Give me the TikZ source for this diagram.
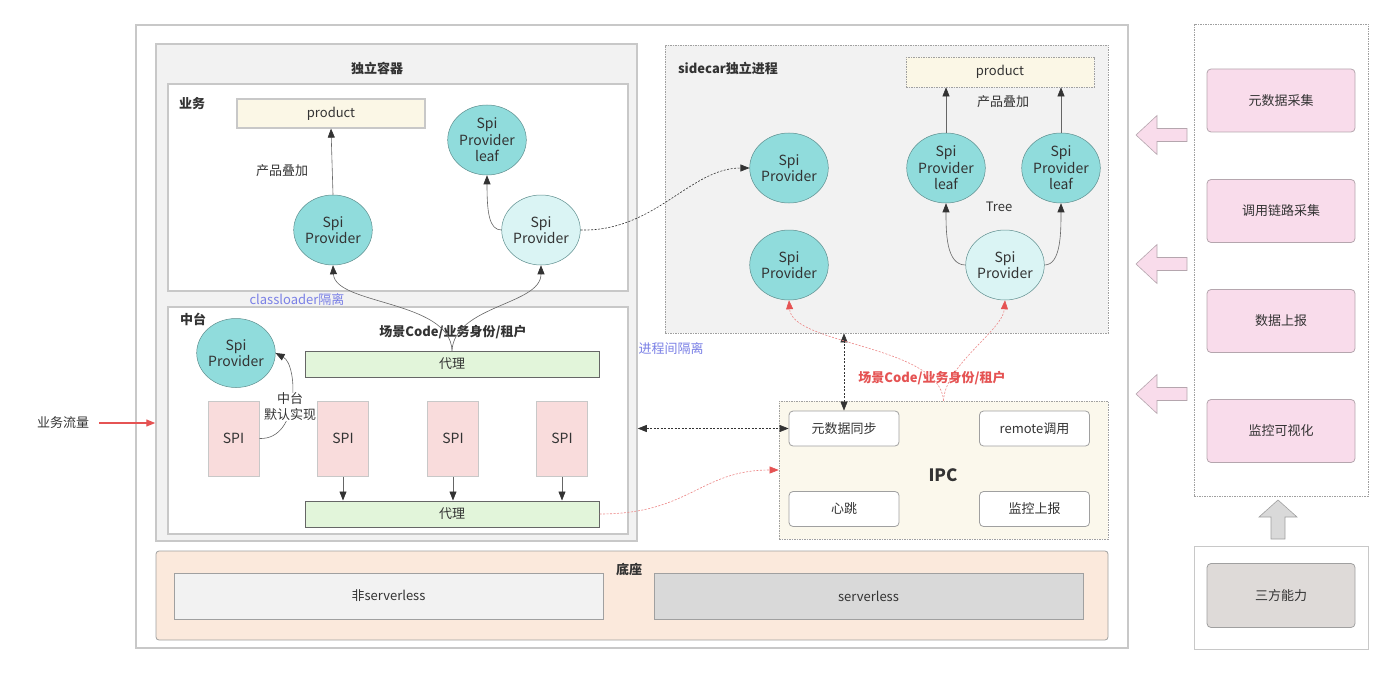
\documentclass[tikz,border=0pt]{standalone}
\usepackage{fontspec}
\setmainfont{Noto Sans CJK SC}
\usetikzlibrary{arrows.meta,shapes.geometric}
\definecolor{txt}{HTML}{333333}
\definecolor{framegray}{HTML}{C8C8C8}
\definecolor{bggray}{HTML}{F2F2F2}
\definecolor{dashgray}{HTML}{A0A0A0}
\definecolor{tealfill}{HTML}{90DCDC}
\definecolor{tealpale}{HTML}{DAF4F4}
\definecolor{tealline}{HTML}{5E8E8E}
\definecolor{cream}{HTML}{FBF7E6}
\definecolor{ipccream}{HTML}{FBF8EC}
\definecolor{proxygreen}{HTML}{E2F5DA}
\definecolor{spipink}{HTML}{F9DCDC}
\definecolor{panelpink}{HTML}{F9DCEB}
\definecolor{panelline}{HTML}{B5A6AE}
\definecolor{peach}{HTML}{FBE9DC}
\definecolor{servergray}{HTML}{D9D9D9}
\definecolor{thirdgray}{HTML}{DEDAD8}
\definecolor{linegray}{HTML}{666666}
\definecolor{isoblue}{HTML}{7A80E6}
\definecolor{flowred}{HTML}{E55353}
\tikzset{
  every node/.style={font=\fontsize{13}{16}\selectfont,text=txt,inner sep=0pt},
  frame/.style={draw=framegray,line width=1.5pt,rectangle},
  dframe/.style={draw=dashgray,line width=0.7pt,dash pattern=on 1.5pt off 1pt,rectangle},
  title/.style={font=\fontsize{13}{16}\selectfont\bfseries},
  prov/.style={ellipse,draw=tealline,line width=0.5pt,fill=tealfill,minimum width=75pt,
    minimum height=70pt,align=center,font=\fontsize{14}{16.5}\selectfont},
  prodbox/.style={draw=framegray,line width=1.2pt,fill=cream,minimum width=188pt,minimum height=29pt},
  proxy/.style={draw=linegray,line width=1pt,fill=proxygreen,minimum width=294pt,minimum height=26pt},
  spibox/.style={draw=framegray,line width=1pt,fill=spipink,minimum width=51pt,minimum height=75pt,
    font=\fontsize{14}{16}\selectfont},
  ipcbox/.style={draw=dashgray,line width=0.8pt,rounded corners=4pt,fill=white,minimum width=110pt,minimum height=35pt},
  panel/.style={draw=panelline,line width=0.8pt,rounded corners=4pt,fill=panelpink,minimum width=148pt,minimum height=63pt},
  link/.style={draw=linegray,line width=0.6pt,-{Triangle[length=9pt,width=7pt,color=black!80]}},
  dlink/.style={draw=black!80,line width=0.6pt,dash pattern=on 2pt off 1.5pt,{Triangle[length=9pt,width=7pt]}-{Triangle[length=9pt,width=7pt]}},
  slink/.style={draw=black!80,line width=0.6pt,dash pattern=on 2pt off 1.5pt,-{Triangle[length=9pt,width=7pt]}},
  rlink/.style={draw=flowred!70,line width=0.6pt,dash pattern=on 2pt off 1.5pt,-{Triangle[length=9pt,width=7pt,color=flowred]}},
  blockarrow/.style={fill=panelpink,draw=panelline,line width=0.6pt}
}
\newcommand{\provider}[4][]{\node[prov,#1] at (#2) (#3) {#4}}

\begin{document}
\begin{tikzpicture}[x=1pt,y=-1pt]
  \useasboundingbox (0,0) rectangle (1392,674);

  \node[frame,fill=white,minimum width=992,minimum height=623] (outer) at (632,336.5) {};
  \node[frame,fill=bggray,minimum width=481,minimum height=497] (ctr) at (396.5,292.5) {};
  \node[title] (ctrt) at (377,68) {独立容器};
  \node[frame,fill=white,minimum width=460,minimum height=207] (biz) at (398,187.5) {};
  \node[title] (bizt) at (192,104) {业务};
  \node[frame,fill=white,minimum width=460,minimum height=227] (mid) at (398,420.5) {};
  \node[title] (midt) at (193,319) {中台};
  \node[dframe,fill=bggray,minimum width=443,minimum height=288] (side) at (886.5,189) {};
  \node[title] (sidet) at (728,68) {sidecar独立进程};
  \node[dframe,fill=ipccream,minimum width=329,minimum height=138] (ipc) at (943.5,470) {};
  \node[font=\fontsize{17}{19}\selectfont\bfseries] (ipct) at (943,475) {IPC};
  \node[draw=dashgray,line width=0.8pt,rounded corners=3pt,fill=peach,minimum width=952,minimum height=89] (base) at (632,595.5) {};
  \node[title] (baset) at (629,569) {底座};
  \node[draw=dashgray,line width=1pt,fill=bggray,minimum width=429,minimum height=46] (nonsl) at (388.5,596) {非serverless};
  \node[draw=dashgray,line width=1pt,fill=servergray,minimum width=429,minimum height=46] (sl) at (868.5,596) {serverless};

  \node[prodbox] (prod) at (331,113.5) {product};
  \node (stack) at (282,171) {产品叠加};
  \provider{333,230}{spa}{Spi\\Provider};
  \provider[minimum width=72pt]{487,140}{leaf}{Spi\\Provider\\leaf};
  \provider[fill=tealpale]{541,230}{spb}{Spi\\Provider};
  \node[text=isoblue] (cliso) at (297,300) {classloader隔离};

  \node[title] (scene) at (453,332) {场景Code/业务身份/租户};
  \node[proxy] (proxyt) at (452,364) {代理};
  \provider[minimum width=74pt,minimum height=69pt]{236,353}{spc}{Spi\\Provider};
  \node[spibox] (spia) at (233.5,438.5) {SPI};
  \node[spibox] (spib) at (343,438.5) {SPI};
  \node[spibox] (spic) at (453,438.5) {SPI};
  \node[spibox] (spid) at (562,438.5) {SPI};
  \node[proxy] (proxyb) at (452,514) {代理};
  \node (flow) at (63,423) {业务流量};
  \node[text=isoblue] (pciso) at (671,349) {进程间隔离};

  \node[dframe,fill=cream,minimum width=188pt,minimum height=30pt] (prodsc) at (1000,72) {product};
  \node (stacksc) at (1003,102) {产品叠加};
  \provider[minimum width=77pt]{789,168}{scpa}{Spi\\Provider};
  \provider[minimum width=77pt]{789,265}{scpb}{Spi\\Provider};
  \provider[minimum width=76pt]{946,168}{leafa}{Spi\\Provider\\leaf};
  \provider[minimum width=73pt]{1061,168}{leafb}{Spi\\Provider\\leaf};
  \provider[fill=tealpale,minimum width=74pt]{1005,265}{scl}{Spi\\Provider};
  \node (tree) at (999,207) {Tree};
  \node[text=flowred,font=\fontsize{13}{16}\selectfont\bfseries] (scenered) at (932,378) {场景Code/业务身份/租户};

  \node[ipcbox] (meta) at (844,428.5) {元数据同步};
  \node[ipcbox] (remote) at (1034.5,428.5) {remote调用};
  \node[ipcbox] (beat) at (844,509) {心跳};
  \node[ipcbox] (report) at (1034.5,509) {监控上报};

  \node[dframe,minimum width=174,minimum height=472] (tools) at (1281,260) {};
  \node[panel] (metacol) at (1281,100.5) {元数据采集};
  \node[panel] (tracecol) at (1281,211) {调用链路采集};
  \node[panel] (datarep) at (1281,321) {数据上报};
  \node[panel] (monvis) at (1281,431) {监控可视化};
  \node[draw=framegray,line width=1pt,minimum width=174,minimum height=103] (thirdbox) at (1281,597.5) {};
  \node[draw=dashgray,line width=0.8pt,rounded corners=4pt,fill=thirdgray,minimum width=148pt,minimum height=64pt] (third) at (1281,595.5) {三方能力};

  \foreach \y in {135,264,394}
    \filldraw[blockarrow] (1187,\y-6.5) -- (1157,\y-6.5) -- (1157,\y-19.5) -- (1136,\y)
      -- (1157,\y+19.5) -- (1157,\y+6.5) -- (1187,\y+6.5) -- cycle;
  \filldraw[fill=servergray,draw=dashgray,line width=0.6pt] (1271,539) -- (1271,517) -- (1259,517) -- (1278,500)
    -- (1297,517) -- (1285,517) -- (1285,539) -- cycle;

  \draw[link] (spa.north) -- (prod.south);
  \draw[link] (spb.west) .. controls (489,230) and (487,212) .. (leaf.south);
  \draw[link] (proxyt.north) .. controls (450,300) and (335,305) .. (spa.south);
  \draw[link] (proxyt.north) .. controls (455,305) and (541,305) .. (spb.south);
  \draw[link] (spia.east) .. controls (300,440) and (298,365) .. (spc.east);
  \draw[link] (spib.south) -- (spib.south |- proxyb.north);
  \draw[link] (spic.south) -- (spic.south |- proxyb.north);
  \draw[link] (spid.south) -- (spid.south |- proxyb.north);
  \node[fill=white,align=center,font=\fontsize{13}{16}\selectfont] (defimpl) at (290,407) {中台\\默认实现};
  \draw[link] (leafa.north) -- (leafa.north |- prodsc.south);
  \draw[link] (leafb.north) -- (leafb.north |- prodsc.south);
  \draw[link] (scl.west) .. controls (946,265) and (946,232) .. (leafa.south);
  \draw[link] (scl.east) .. controls (1061,265) and (1061,232) .. (leafb.south);
  \draw[slink] (spb.east) .. controls (655,232) and (690,168) .. (scpa.west);
  \draw[dlink] (ctr.east |- meta.west) -- (meta.west);
  \draw[dlink] (meta.north) -- (meta.north |- side.south);
  \draw[rlink] (ipc.north) .. controls (940,345) and (792,345) .. (scpb.south);
  \draw[rlink] (ipc.north) .. controls (945,365) and (1003,330) .. (scl.south);
  \draw[rlink] (proxyb.east) .. controls (690,514) and (700,470) .. (ipc.west);
  \draw[draw=flowred,line width=1.2pt,-{Triangle[length=9pt,width=7pt]}] (flow.east) ++(10,0) coordinate (flowstart)
    (flowstart) -- (flowstart -| ctr.west);
\end{tikzpicture}
\end{document}
